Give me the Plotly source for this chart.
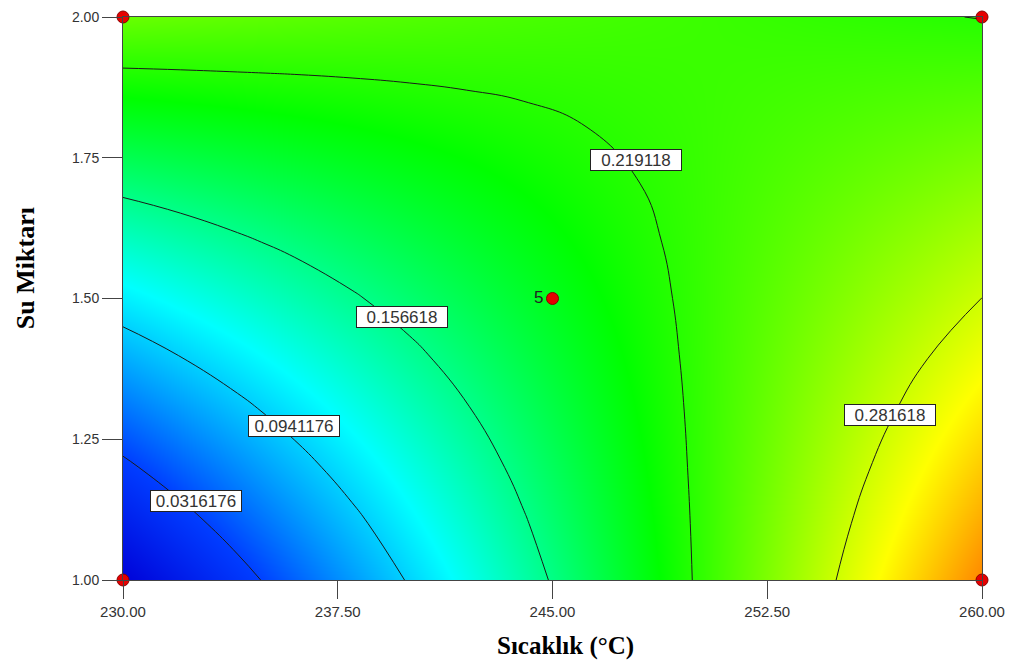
import plotly.graph_objects as go

# Response surface grid: temperature (°C) across, water amount down
temp = [230, 232, 234, 236, 238, 240, 242, 244, 246, 248, 250, 252, 254, 256, 258, 260]
water = [1.0, 1.1, 1.2, 1.3, 1.4, 1.5, 1.6, 1.7, 1.8, 1.9, 2.0]
response = [
    [-0.0282, -0.0033, 0.0216, 0.0464, 0.0713, 0.0962, 0.1211, 0.1460, 0.1708, 0.1957, 0.2206, 0.2455, 0.2704, 0.2952, 0.3201, 0.3450],
    [-0.0010, 0.0212, 0.0434, 0.0657, 0.0879, 0.1101, 0.1323, 0.1546, 0.1768, 0.1990, 0.2212, 0.2435, 0.2657, 0.2879, 0.3101, 0.3324],
    [0.0262, 0.0458, 0.0653, 0.0849, 0.1045, 0.1240, 0.1436, 0.1632, 0.1827, 0.2023, 0.2219, 0.2415, 0.2610, 0.2806, 0.3001, 0.3197],
    [0.0534, 0.0703, 0.0872, 0.1041, 0.1210, 0.1380, 0.1549, 0.1718, 0.1887, 0.2056, 0.2225, 0.2394, 0.2564, 0.2732, 0.2902, 0.3071],
    [0.0806, 0.0949, 0.1091, 0.1234, 0.1376, 0.1519, 0.1661, 0.1804, 0.1946, 0.2089, 0.2232, 0.2374, 0.2517, 0.2659, 0.2802, 0.2944],
    [0.1078, 0.1194, 0.1310, 0.1426, 0.1542, 0.1658, 0.1774, 0.1890, 0.2006, 0.2122, 0.2238, 0.2354, 0.2470, 0.2586, 0.2702, 0.2818],
    [0.1350, 0.1439, 0.1529, 0.1618, 0.1708, 0.1797, 0.1887, 0.1976, 0.2066, 0.2155, 0.2244, 0.2334, 0.2423, 0.2513, 0.2602, 0.2692],
    [0.1622, 0.1685, 0.1748, 0.1811, 0.1874, 0.1936, 0.1999, 0.2062, 0.2125, 0.2188, 0.2251, 0.2314, 0.2377, 0.2439, 0.2502, 0.2565],
    [0.1894, 0.1930, 0.1967, 0.2003, 0.2039, 0.2076, 0.2112, 0.2148, 0.2185, 0.2221, 0.2257, 0.2294, 0.2330, 0.2366, 0.2402, 0.2439],
    [0.2166, 0.2176, 0.2186, 0.2195, 0.2205, 0.2215, 0.2225, 0.2234, 0.2244, 0.2254, 0.2264, 0.2273, 0.2283, 0.2293, 0.2303, 0.2312],
    [0.2438, 0.2421, 0.2404, 0.2388, 0.2371, 0.2354, 0.2337, 0.2320, 0.2304, 0.2287, 0.2270, 0.2253, 0.2236, 0.2220, 0.2203, 0.2186],
]

# Contour levels and where each level's label sits
levels = [0.0316176, 0.0941176, 0.156618, 0.219118, 0.281618]
label_temp = [232.55, 235.97, 239.76, 247.9, 256.79]
label_water = [1.141, 1.2735, 1.468, 1.746, 1.293]

# Design points (factorial corners + centre point with 5 replicates)
design_temp = [230, 230, 260, 260, 245]
design_water = [1.0, 2.0, 1.0, 2.0, 1.5]
centre_reps = "5"

x_ticks = [230, 237.5, 245, 252.5, 260]
x_tick_text = ["230.00", "237.50", "245.00", "252.50", "260.00"]
y_ticks = [1.0, 1.25, 1.5, 1.75, 2.0]
y_tick_text = ["1.00", "1.25", "1.50", "1.75", "2.00"]

SANS = "Liberation Sans, Arial, sans-serif"
SERIF = "Liberation Serif, Times New Roman, serif"

# Colour ramp: blue -> cyan -> green -> yellow -> red over z in [-0.03, 0.395]
Z_LO, Z_HI = -0.03, 0.395
ramp = [
    (-0.03, "rgb(0,0,215)"),
    (0.03, "rgb(0,60,255)"),
    (0.115, "rgb(0,255,255)"),
    (0.205, "rgb(0,255,0)"),
    (0.30, "rgb(255,255,0)"),
    (0.395, "rgb(255,0,0)"),
]
colorscale = [[(v - Z_LO) / (Z_HI - Z_LO), c] for v, c in ramp]

fig = go.Figure()

fig.add_trace(go.Contour(
    x=temp, y=water, z=response,
    zmin=Z_LO, zmax=Z_HI, zauto=False,
    colorscale=colorscale,
    contours=dict(coloring="heatmap", start=levels[0], end=levels[-1],
                  size=levels[1] - levels[0], showlabels=False),
    line=dict(color="#1a1a1a", width=1, smoothing=1.3),
    showscale=False,
    hoverinfo="skip",
))

fig.add_trace(go.Scatter(
    x=design_temp, y=design_water, mode="markers",
    marker=dict(size=12, color="#e60000", line=dict(color="#8a0000", width=1)),
    cliponaxis=False, showlegend=False, hoverinfo="skip",
))

annotations = []
for lvl, lx, ly in zip(levels, label_temp, label_water):
    annotations.append(dict(
        x=lx, y=ly, xref="x", yref="y", text=f"{lvl:g}", showarrow=False,
        font=dict(family=SANS, size=17, color="#333333"),
        width=88, height=18,
        bgcolor="white", bordercolor="#222222", borderwidth=1, borderpad=1,
    ))

annotations.append(dict(
    x=design_temp[-1], y=design_water[-1], xref="x", yref="y", text=centre_reps,
    showarrow=False, xanchor="right", xshift=-8, yshift=1,
    font=dict(family=SANS, size=17, color="#222222"),
))

annotations.append(dict(
    x=0.5146, y=-0.117, xref="paper", yref="paper", text="<b>Sıcaklık (°C)</b>",
    showarrow=False, yanchor="middle",
    font=dict(family=SERIF, size=25, color="black"),
))
annotations.append(dict(
    x=-0.114, y=0.554, xref="paper", yref="paper", text="<b>Su Miktarı</b>",
    showarrow=False, textangle=-90, xanchor="center", yanchor="middle",
    font=dict(family=SERIF, size=26, color="black"),
))

axis_common = dict(
    showgrid=False, zeroline=False, showline=True, linecolor="#444444",
    linewidth=1, mirror=True, ticks="outside", tickcolor="#444444",
    automargin=False,
)

fig.update_layout(
    width=1010, height=664,
    margin=dict(l=123, r=28, t=17, b=84),
    paper_bgcolor="white", plot_bgcolor="white",
    xaxis=dict(range=[230, 260], tickvals=x_ticks, ticktext=x_tick_text,
               ticklen=18, tickfont=dict(family=SANS, size=15, color="#333333"),
               **axis_common),
    yaxis=dict(range=[1, 2], tickvals=y_ticks, ticktext=y_tick_text,
               ticklen=20, tickfont=dict(family=SANS, size=14, color="#333333"),
               **axis_common),
    annotations=annotations,
    showlegend=False,
)

fig.write_html("out.html")
